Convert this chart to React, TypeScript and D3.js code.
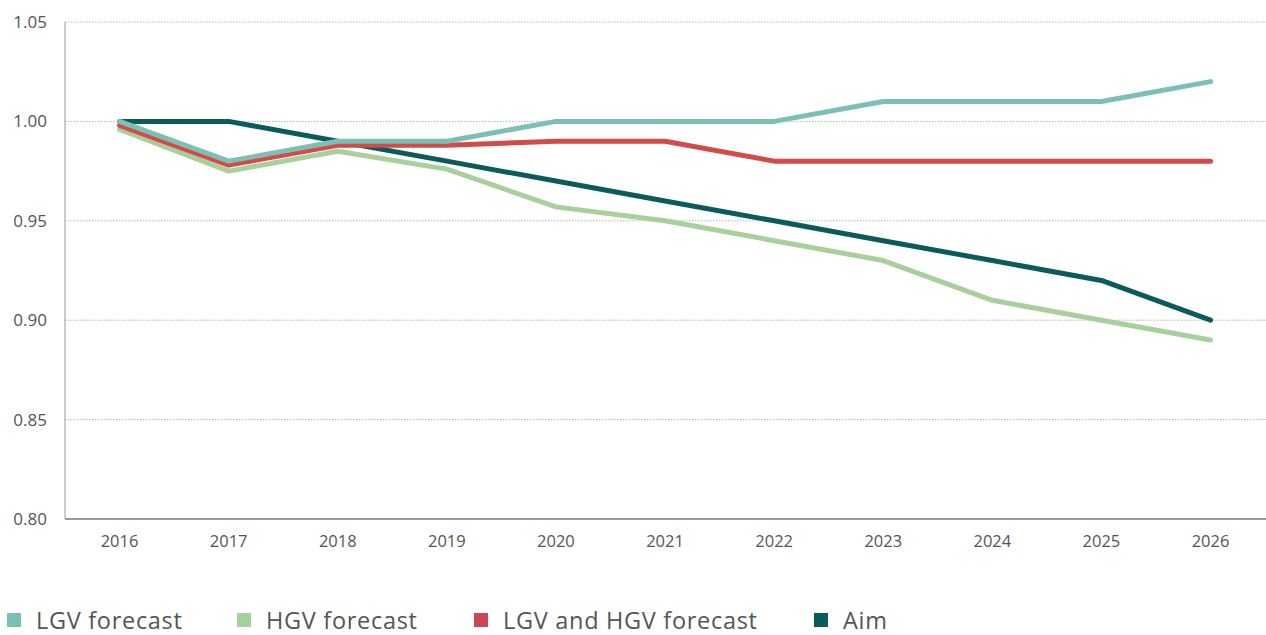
import React from "react";
import * as d3 from "d3";

const years = ["2016", "2017", "2018", "2019", "2020", "2021", "2022", "2023", "2024", "2025", "2026"];
const lgv = [1.0, 0.98, 0.99, 0.99, 1.0, 1.0, 1.0, 1.01, 1.01, 1.01, 1.02];
const hgv = [0.996, 0.975, 0.985, 0.976, 0.957, 0.95, 0.94, 0.93, 0.91, 0.9, 0.89];
const both = [0.998, 0.978, 0.988, 0.988, 0.99, 0.99, 0.98, 0.98, 0.98, 0.98, 0.98];
const aim = [1.0, 1.0, 0.99, 0.98, 0.97, 0.96, 0.95, 0.94, 0.93, 0.92, 0.9];
const yTicks = [0.8, 0.85, 0.9, 0.95, 1.0, 1.05];
const yTickLabels = ["0.80", "0.85", "0.90", "0.95", "1.00", "1.05"];

const series = [
  { name: "Aim", values: aim, color: "#0b5b5c" },
  { name: "HGV forecast", values: hgv, color: "#a8d09c" },
  { name: "LGV and HGV forecast", values: both, color: "#d44a48" },
  { name: "LGV forecast", values: lgv, color: "#7cc0b5" },
];
const legendItems = [
  { name: "LGV forecast", color: "#7cc0b5", x: 7 },
  { name: "HGV forecast", color: "#a8d09c", x: 237 },
  { name: "LGV and HGV forecast", color: "#cd4855", x: 474 },
  { name: "Aim", color: "#0b5b5c", x: 814 },
];

export default function App() {
  const W = 1266, H = 635;
  const left = 65, right = 1266, top = 22, bottom = 519;
  const x = d3.scaleBand<string>().domain(years).range([left, left + 109.1 * 11]);
  const y = d3.scaleLinear().domain([0.8, 1.05]).range([bottom, top]);
  const cx = (yr: string) => (x(yr) as number) + x.bandwidth() / 2;
  const line = d3
    .line<number>()
    .x((_, i) => cx(years[i]))
    .y((v) => y(v));
  const font = "'Open Sans', sans-serif";
  return (
    <svg width={W} height={H} style={{ position: "absolute", left: 0, top: 0 }} fontFamily={font}>
      {yTicks.map((t, i) => (
        <g key={t}>
          <line x1={left} x2={right} y1={y(t)} y2={y(t)} stroke="#b5b5b5" strokeWidth={1} strokeDasharray="1.5,1.5" />
          <text x={47} y={y(t)} dy="0.35em" textAnchor="end" fontSize={17} fill="#555">
            {yTickLabels[i]}
          </text>
        </g>
      ))}
      <line x1={left} x2={left} y1={top} y2={bottom} stroke="#999" strokeWidth={1} />
      <line x1={left} x2={right} y1={bottom} y2={bottom} stroke="#999" strokeWidth={2} />
      {years.map((yr) => (
        <text key={yr} x={cx(yr)} y={547} textAnchor="middle" fontSize={16.5} fill="#555">
          {yr}
        </text>
      ))}
      {series.map((s) => (
        <path key={s.name} d={line(s.values) as string} fill="none" stroke={s.color} strokeWidth={5} strokeLinecap="round" strokeLinejoin="round" />
      ))}
      {legendItems.map((l) => (
        <g key={l.name}>
          <rect x={l.x} y={613} width={14} height={14} fill={l.color} />
          <text x={l.x + 29} y={629} fontSize={23.5} letterSpacing={0.7} fill="#555">
            {l.name}
          </text>
        </g>
      ))}
    </svg>
  );
}
